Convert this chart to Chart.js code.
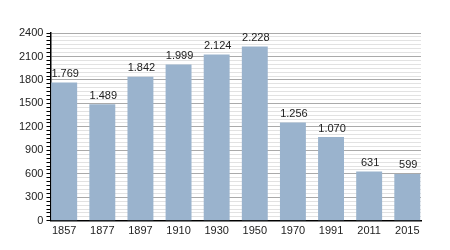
<!DOCTYPE html>
<html>
<head>
<meta charset="utf-8">
<script src="https://cdn.jsdelivr.net/npm/chart.js@4.4.1/dist/chart.umd.min.js"></script>
<style>
  html, body { margin: 0; padding: 0; background: #fff; }
  #wrap { width: 450px; height: 250px; }
</style>
</head>
<body>
<div id="wrap"><canvas id="myChart"></canvas></div>
<script>
const years = ["1857", "1877", "1897", "1910", "1930", "1950", "1970", "1991", "2011", "2015"];
const population = [1769, 1489, 1842, 1999, 2124, 2228, 1256, 1070, 631, 599];
const yMax = 2400;
const yMajorStep = 300;
const yMinorStep = 50;

function formatNum(v) {
  return String(v).replace(/\B(?=(\d{3})+(?!\d))/g, ".");
}

const valueLabels = {
  id: "valueLabels",
  afterDatasetsDraw(chart) {
    const c = chart.ctx;
    const meta = chart.getDatasetMeta(0);
    c.save();
    c.font = "11px 'Liberation Sans', Arial, sans-serif";
    c.fillStyle = "#222";
    c.textAlign = "center";
    c.textBaseline = "bottom";
    meta.data.forEach((bar, i) => {
      c.fillText(formatNum(population[i]), bar.x + 1, bar.y - 3);
    });
    c.restore();
  }
};

// bars sit flush against both ends of the x axis, so use a linear x scale
const edge = 0.36;

const ctx = document.getElementById("myChart");
new Chart(ctx, {
  type: "bar",
  data: {
    datasets: [
      {
        label: "Population",
        data: population.map((v, i) => ({ x: i, y: v })),
        backgroundColor: "#9ab3cd",
        categoryPercentage: 0.68,
        barPercentage: 1,
      },
    ],
  },
  options: {
    responsive: true,
    maintainAspectRatio: false,
    animation: false,
    layout: { padding: { top: 33, right: 29, bottom: 8, left: 16 } },
    plugins: {
      legend: { display: false },
      tooltip: { enabled: false },
    },
    scales: {
      x: {
        type: "linear",
        min: -edge,
        max: years.length - 1 + edge,
        offset: false,
        grid: { display: false, drawTicks: false },
        border: { color: "#000", width: 1.5 },
        ticks: {
          stepSize: 1,
          includeBounds: false,
          autoSkip: false,
          color: "#222",
          padding: 4,
          font: { family: "'Liberation Sans', Arial, sans-serif", size: 11 },
          maxRotation: 0,
          callback: (v) => (Number.isInteger(v) && years[v] ? years[v] : ""),
        },
      },
      y: {
        min: 0,
        max: yMax,
        border: { color: "#000", width: 1.5 },
        grid: {
          color: (c) => (c.tick.value % yMajorStep === 0 ? "#aaaaaa" : "#e2e2e2"),
          tickColor: "#000",
          tickLength: 4,
          lineWidth: 1,
        },
        ticks: {
          stepSize: yMinorStep,
          autoSkip: false,
          color: "#222",
          padding: 3,
          font: { family: "'Liberation Sans', Arial, sans-serif", size: 11 },
          callback: (v) => (v % yMajorStep === 0 ? v : ""),
        },
      },
    },
  },
  plugins: [valueLabels],
});
</script>
</body>
</html>
